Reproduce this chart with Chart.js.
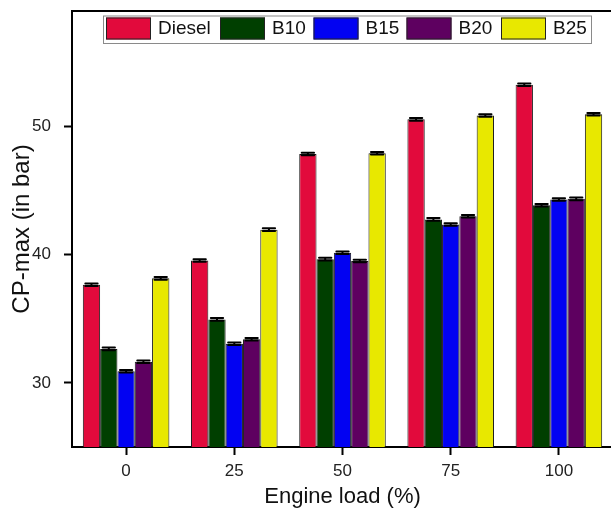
<!DOCTYPE html>
<html>
<head>
<meta charset="utf-8">
<script src="https://cdn.jsdelivr.net/npm/chart.js@4.4.0/dist/chart.umd.min.js"></script>
<style>
  html, body { margin: 0; padding: 0; background: #ffffff; overflow: hidden; }
  #wrap { width: 614px; height: 511px; }
</style>
</head>
<body>
<div id="wrap"><canvas id="c" width="614" height="511"></canvas></div>
<script>
// Engine load categories (%)
const loads = ['0', '25', '50', '75', '100'];

// Peak cylinder pressure (bar) for each fuel
const diesel = [37.65, 39.55, 47.85, 50.55, 53.25];
const b10    = [32.65, 34.95, 39.65, 42.75, 43.85];
const b15    = [30.90, 33.05, 40.15, 42.35, 44.30];
const b20    = [31.65, 33.40, 39.50, 43.00, 44.35];
const b25    = [38.15, 41.95, 47.90, 50.85, 50.95];

// Standard deviation drawn as error bars
const diesel_err = [0.1, 0.1, 0.1, 0.1, 0.1];
const b10_err    = [0.1, 0.1, 0.1, 0.1, 0.1];
const b15_err    = [0.1, 0.1, 0.1, 0.1, 0.1];
const b20_err    = [0.1, 0.1, 0.1, 0.1, 0.1];
const b25_err    = [0.1, 0.1, 0.1, 0.1, 0.1];

// Y axis range and ticks
const yMin = 25;
const yMax = 59;
const yTicks = [30, 40, 50];

const FONT = "'Liberation Sans', Arial, Helvetica, sans-serif";

const series = [
  { label: 'Diesel', data: diesel, err: diesel_err, color: '#E20A3C' },
  { label: 'B10',    data: b10,    err: b10_err,    color: '#003F00' },
  { label: 'B15',    data: b15,    err: b15_err,    color: '#0202F2' },
  { label: 'B20',    data: b20,    err: b20_err,    color: '#5E0060' },
  { label: 'B25',    data: b25,    err: b25_err,    color: '#E8E800' }
];

// Error bars on top of each bar
const errorBars = {
  id: 'errorBars',
  afterDatasetsDraw(chart) {
    const ctx = chart.ctx;
    const y = chart.scales.y;
    ctx.save();
    ctx.strokeStyle = '#000';
    ctx.lineCap = 'round';
    chart.data.datasets.forEach((ds, i) => {
      const meta = chart.getDatasetMeta(i);
      meta.data.forEach((bar, j) => {
        const v = ds.data[j];
        const e = ds.errors[j];
        const yt = y.getPixelForValue(v + e);
        const yb = y.getPixelForValue(v - e);
        const half = bar.width / 2 - 2.5;
        ctx.lineWidth = 2;
        ctx.beginPath();
        ctx.moveTo(bar.x, yt); ctx.lineTo(bar.x, yb);
        ctx.moveTo(bar.x - half, yt); ctx.lineTo(bar.x + half, yt);
        ctx.moveTo(bar.x - half, yb); ctx.lineTo(bar.x + half, yb);
        ctx.stroke();
      });
    });
    ctx.restore();
  }
};

// Frame lines (top and right) and the legend inside the plot
const legendSlots = [106, 220, 313.5, 406.5, 501];
const frameAndLegend = {
  id: 'frameAndLegend',
  afterDraw(chart) {
    const ctx = chart.ctx;
    const a = chart.chartArea;
    ctx.save();
    ctx.strokeStyle = '#000';
    ctx.lineWidth = 2;
    ctx.beginPath();
    ctx.moveTo(a.left - 1, a.top);
    ctx.lineTo(a.right, a.top);
    ctx.lineTo(a.right, a.bottom);
    ctx.stroke();

    // legend box
    const lx = 103, ly = 15.5, lw = 488, lh = 27.5;
    ctx.fillStyle = '#fff';
    ctx.fillRect(lx, ly, lw, lh);
    ctx.strokeStyle = '#8a8a8a';
    ctx.lineWidth = 1;
    ctx.strokeRect(lx + 0.5, ly + 0.5, lw, lh);

    ctx.font = '19px ' + FONT;
    ctx.textBaseline = 'middle';
    ctx.textAlign = 'left';
    const by = 17.5, bw = 45, bh = 22;
    chart.data.datasets.forEach((ds, i) => {
      const x = legendSlots[i];
      ctx.fillStyle = ds.backgroundColor;
      ctx.fillRect(x, by, bw, bh);
      ctx.strokeStyle = '#222';
      ctx.lineWidth = 1;
      ctx.strokeRect(x + 0.5, by + 0.5, bw - 1, bh - 1);
      ctx.fillStyle = '#111';
      ctx.fillText(ds.label, x + bw + 7, by + bh / 2 + 0.5);
    });
    ctx.restore();
  }
};

new Chart(document.getElementById('c'), {
  type: 'bar',
  data: {
    labels: loads,
    datasets: series.map(s => ({
      label: s.label,
      data: s.data,
      errors: s.err,
      backgroundColor: s.color,
      borderColor: '#1a1a1a',
      borderWidth: 1,
      categoryPercentage: 0.8,
      barPercentage: 1.0
    }))
  },
  options: {
    responsive: false,
    animation: false,
    devicePixelRatio: 1,
    layout: { padding: { left: 0, top: 11, right: 1, bottom: 0 } },
    plugins: {
      legend: { display: false },
      tooltip: { enabled: false }
    },
    scales: {
      x: {
        grid: {
          offset: false,
          drawOnChartArea: false,
          drawTicks: true,
          tickLength: 8,
          tickWidth: 2,
          tickColor: '#000'
        },
        border: { display: true, color: '#000', width: 2 },
        ticks: {
          padding: 6,
          color: '#222',
          font: { family: FONT, size: 17 }
        },
        title: {
          display: true,
          text: 'Engine load (%)',
          color: '#111',
          font: { family: FONT, size: 22 },
          padding: { top: 0, bottom: 1 }
        },
        afterFit(scale) {
          scale.height = 64;
          scale.paddingLeft = 0;
          scale.paddingRight = 0;
        }
      },
      y: {
        min: yMin,
        max: yMax,
        afterBuildTicks(scale) { scale.ticks = yTicks.map(v => ({ value: v })); },
        grid: {
          drawOnChartArea: false,
          drawTicks: true,
          tickLength: 8,
          tickWidth: 2,
          tickColor: '#000'
        },
        border: { display: true, color: '#000', width: 2 },
        ticks: {
          padding: 13,
          color: '#222',
          font: { family: FONT, size: 17 }
        },
        title: {
          display: true,
          text: 'CP-max (in bar)',
          color: '#111',
          font: { family: FONT, size: 24 },
          padding: { top: 8, bottom: 0 }
        },
        afterFit(scale) {
          scale.width = 72;
          scale.paddingTop = 0;
          scale.paddingBottom = 0;
        }
      }
    }
  },
  plugins: [errorBars, frameAndLegend]
});
</script>
</body>
</html>
